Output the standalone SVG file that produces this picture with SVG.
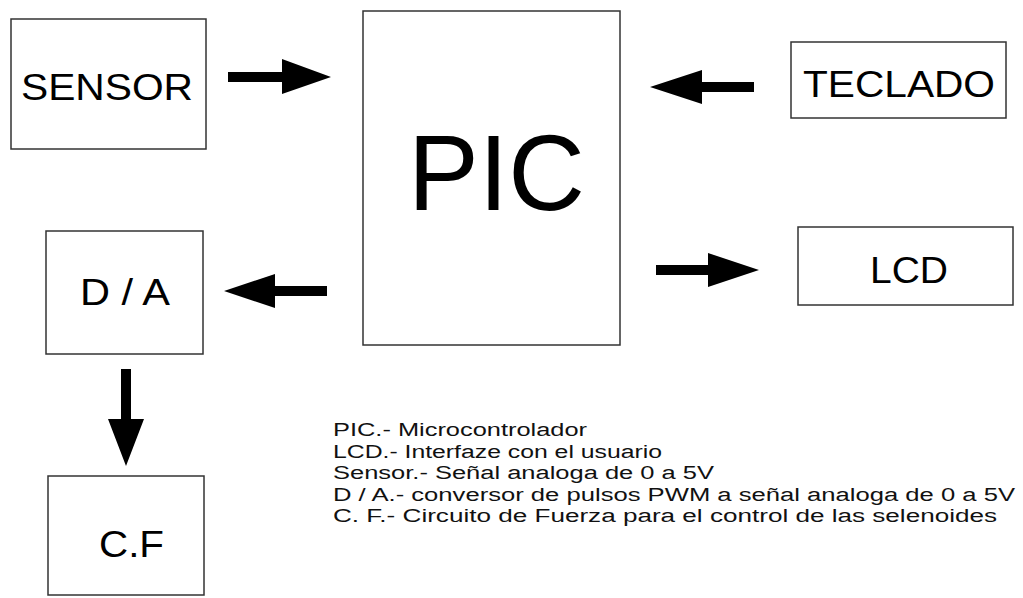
<svg xmlns="http://www.w3.org/2000/svg" width="1023" height="598" viewBox="0 0 1023 598">
<style>
.box{fill:#fff;stroke:#333;stroke-width:1.5}
.lbl{font-family:"Liberation Sans",Arial,sans-serif;font-size:37px;fill:#000}
.big{font-family:"Liberation Sans",Arial,sans-serif;font-size:107px;fill:#000}
.arr{fill:#000}
.leg{font-family:"Liberation Sans",Arial,sans-serif;font-size:18px;fill:#111}
</style>
<rect width="1023" height="598" fill="#fff"/>
<g id="sensor"><rect class="box" x="11" y="19" width="195" height="130"/><text class="lbl" x="21" y="100" textLength="172" lengthAdjust="spacingAndGlyphs">SENSOR</text></g>
<g id="pic"><rect class="box" x="363" y="11" width="257" height="334"/><text class="big" x="408" y="210" textLength="177" lengthAdjust="spacingAndGlyphs">PIC</text></g>
<g id="teclado"><rect class="box" x="791" y="42" width="215" height="76"/><text class="lbl" x="803" y="97" textLength="192" lengthAdjust="spacingAndGlyphs">TECLADO</text></g>
<g id="da"><rect class="box" x="46" y="231" width="157" height="123"/><text class="lbl" x="80" y="305" textLength="90" lengthAdjust="spacingAndGlyphs">D / A</text></g>
<g id="lcd"><rect class="box" x="798" y="227" width="215" height="78"/><text class="lbl" x="870" y="283" textLength="78" lengthAdjust="spacingAndGlyphs">LCD</text></g>
<g id="cf"><rect class="box" x="48" y="476" width="156" height="119"/><text class="lbl" x="99" y="557" textLength="65" lengthAdjust="spacingAndGlyphs">C.F</text></g>
<g id="connectors">
<polygon class="arr" points="228,72 282,72 282,59 331,77 282,94 282,82 228,82"/>
<polygon class="arr" points="754,82 702,82 702,70 650,87 702,104 702,92 754,92"/>
<polygon class="arr" points="327,286 275,286 275,274 224,291 275,308 275,296 327,296"/>
<polygon class="arr" points="656,265 708,265 708,253 759,270 708,287 708,275 656,275"/>
<polygon class="arr" points="121,369 131,369 131,419 144,419 126,466 108,419 121,419"/>
</g>
<g id="legend">
<text class="leg" x="333" y="436" textLength="254" lengthAdjust="spacingAndGlyphs">PIC.- Microcontrolador</text>
<text class="leg" x="333" y="457.5" textLength="329" lengthAdjust="spacingAndGlyphs">LCD.- Interfaze con el usuario</text>
<text class="leg" x="333" y="479" textLength="381" lengthAdjust="spacingAndGlyphs">Sensor.- Señal analoga de 0 a 5V</text>
<text class="leg" x="333" y="500.5" textLength="682" lengthAdjust="spacingAndGlyphs">D / A.- conversor de pulsos PWM a señal analoga de 0 a 5V</text>
<text class="leg" x="333" y="522" textLength="664" lengthAdjust="spacingAndGlyphs">C. F.- Circuito de Fuerza para el control de las selenoides</text>
</g>
</svg>
